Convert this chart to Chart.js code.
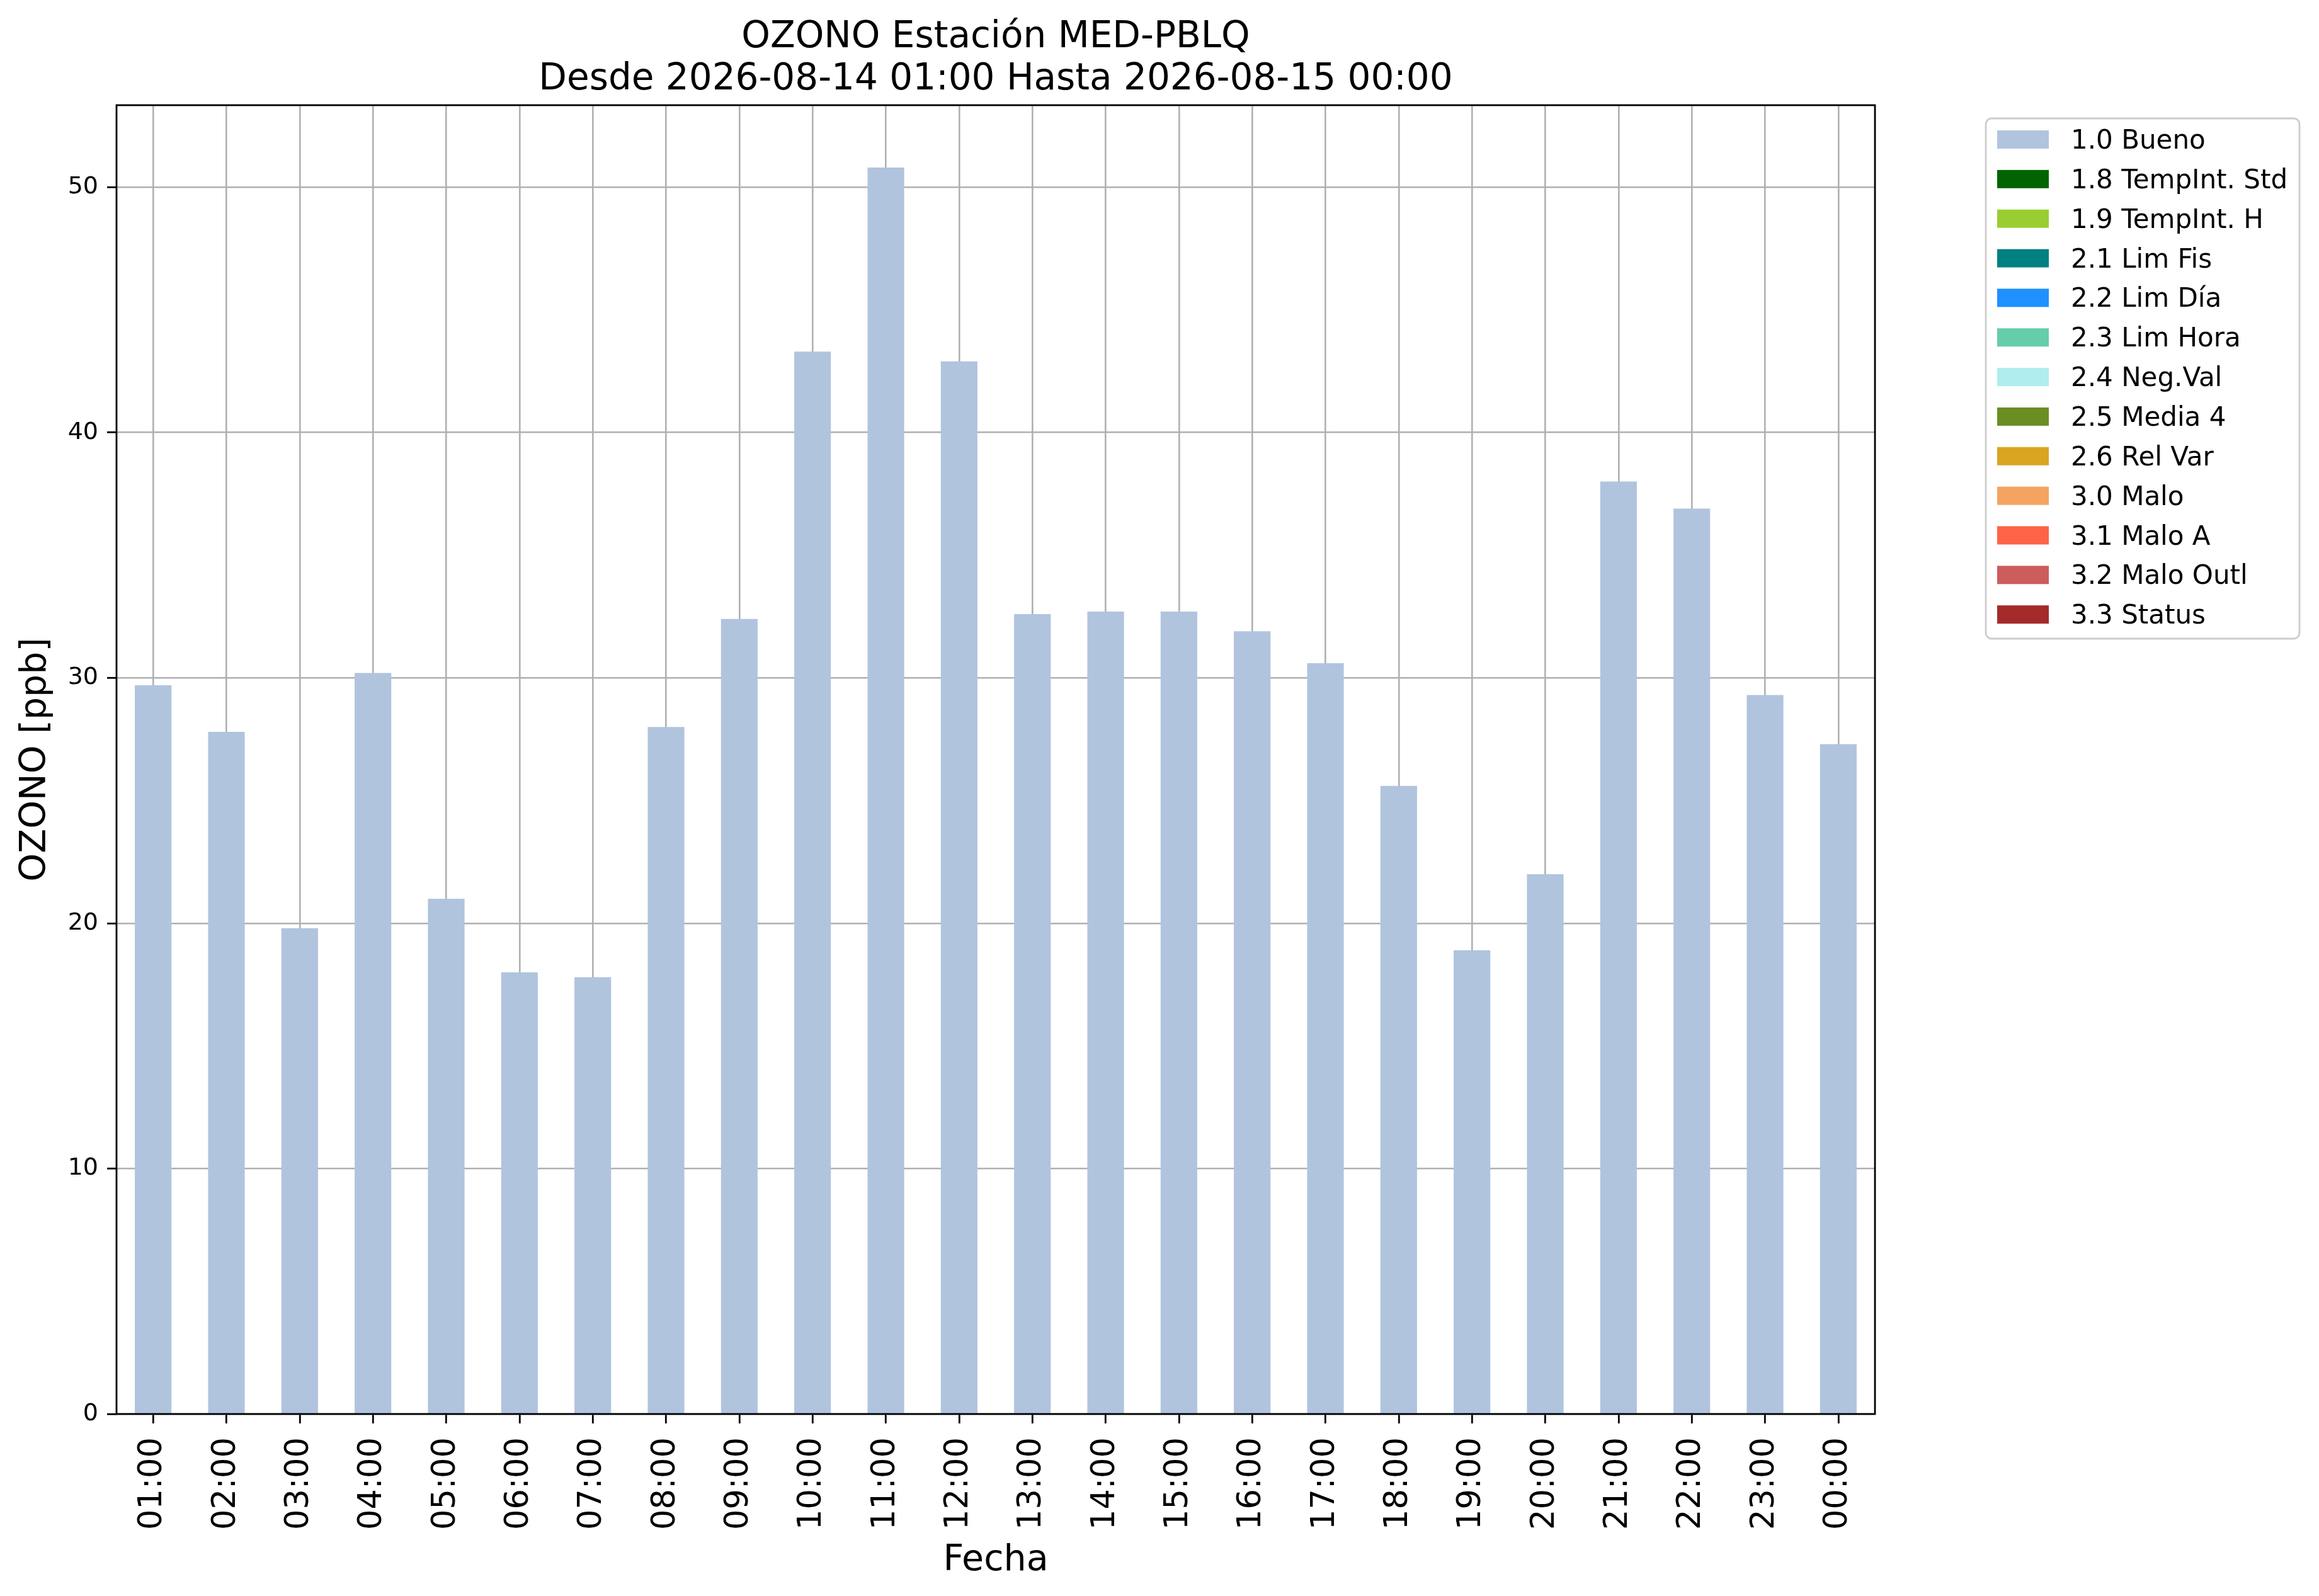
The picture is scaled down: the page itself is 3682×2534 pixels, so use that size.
<!DOCTYPE html>
<html>
<head>
<meta charset="utf-8">
<script src="https://cdn.jsdelivr.net/npm/chart.js@4.4.1/dist/chart.umd.min.js"></script>
<style>
    html, body { margin: 0; padding: 0; background: #fff; }
    canvas { display: block; }
</style>
</head>
<body>
<canvas id="barChart" width="3682" height="2534"></canvas>
<script>
// datos
var horas = ['01:00', '02:00', '03:00', '04:00', '05:00', '06:00', '07:00', '08:00',
    '09:00', '10:00', '11:00', '12:00', '13:00', '14:00', '15:00', '16:00',
    '17:00', '18:00', '19:00', '20:00', '21:00', '22:00', '23:00', '00:00'];
var bueno = [29.7, 27.8, 19.8, 30.2, 21.0, 18.0, 17.8, 28.0, 32.4, 43.3, 50.8, 42.9,
    32.6, 32.7, 32.7, 31.9, 30.6, 25.6, 18.9, 22.0, 38.0, 36.9, 29.3, 27.3];
var flagLabels = ['1.0 Bueno', '1.8 TempInt. Std', '1.9 TempInt. H', '2.1 Lim Fis',
    '2.2 Lim Día', '2.3 Lim Hora', '2.4 Neg.Val', '2.5 Media 4', '2.6 Rel Var',
    '3.0 Malo', '3.1 Malo A', '3.2 Malo Outl', '3.3 Status'];
var flagColors = ['#b0c4de', '#006400', '#9acd32', '#008080', '#1e90ff', '#66cdaa',
    '#afeeee', '#6b8e23', '#daa520', '#f4a460', '#ff6347', '#cd5c5c', '#a52a2a'];
var yTicks = [0, 10, 20, 30, 40, 50];
var titulo = ['OZONO Estación MED-PBLQ', 'Desde 2026-08-14 01:00 Hasta 2026-08-15 00:00'];
var yLabel = 'OZONO [ppb]';
var xLabel = 'Fecha';

var FONT = '"DejaVu Sans", "Liberation Sans", sans-serif';
Chart.defaults.font.family = FONT;
Chart.defaults.color = '#000';

// solo "1.0 Bueno" tiene datos, el resto queda vacio
var datasets = flagLabels.map(function (lab, i) {
    return {
        label: lab,
        data: i === 0 ? bueno : [],
        backgroundColor: flagColors[i],
        borderWidth: 0,
        barPercentage: 0.5,
        categoryPercentage: 1.0
    };
});

var decor = {
    id: 'decor',
    afterDraw: function (chart) {
        var ctx = chart.ctx;
        var a = chart.chartArea;
        ctx.save();

        // marco
        ctx.strokeStyle = '#000';
        ctx.lineWidth = 2.8;
        ctx.strokeRect(a.left, a.top, a.right - a.left, a.bottom - a.top);

        // titulo
        var cx = (a.left + a.right) / 2;
        ctx.fillStyle = '#000';
        ctx.textAlign = 'center';
        ctx.textBaseline = 'alphabetic';
        ctx.font = '58px ' + FONT;
        ctx.fillText(titulo[0], cx, 75);
        ctx.fillText(titulo[1], cx, 142);

        // etiquetas de ejes
        ctx.font = '57px ' + FONT;
        ctx.fillText(xLabel, cx, 2493);
        ctx.save();
        ctx.translate(57, (a.top + a.bottom) / 2);
        ctx.rotate(-Math.PI / 2);
        ctx.textBaseline = 'middle';
        ctx.fillText(yLabel, 0, 0);
        ctx.restore();

        // leyenda
        var bx = 3153, by = 188, bw = 498, bh = 826;
        ctx.beginPath();
        ctx.roundRect(bx, by, bw, bh, 9);
        ctx.fillStyle = 'rgba(255,255,255,0.8)';
        ctx.fill();
        ctx.strokeStyle = '#cccccc';
        ctx.lineWidth = 2.8;
        ctx.stroke();
        ctx.font = '42px ' + FONT;
        ctx.textAlign = 'left';
        ctx.textBaseline = 'alphabetic';
        chart.data.datasets.forEach(function (ds, i) {
            var cy = 221.5 + i * 62.85;
            ctx.fillStyle = ds.backgroundColor;
            ctx.fillRect(3171, cy - 14.5, 82, 29);
            ctx.fillStyle = '#000';
            ctx.fillText(ds.label, 3288, cy + 14.5);
        });
        ctx.restore();
    }
};

var ctx = document.getElementById('barChart').getContext('2d');
var chart = new Chart(ctx, {
    type: 'bar',
    data: { labels: horas, datasets: datasets },
    options: {
        responsive: false,
        animation: false,
        devicePixelRatio: 1,
        layout: { padding: { left: 0, top: 167, right: 705, bottom: 0 } },
        plugins: {
            legend: { display: false },
            title: { display: false },
            tooltip: { enabled: false }
        },
        scales: {
            x: {
                stacked: true,
                z: 1,
                offset: true,
                grid: {
                    offset: false,
                    color: '#b0b0b0',
                    lineWidth: 2.6,
                    drawTicks: true,
                    tickLength: 15,
                    tickColor: '#000',
                    tickWidth: 2.8
                },
                border: { display: false },
                ticks: {
                    autoSkip: false,
                    minRotation: 90,
                    maxRotation: 90,
                    padding: 22,
                    font: { size: 51 },
                    color: '#000'
                },
                afterFit: function (s) { s.height = 289; }
            },
            y: {
                stacked: true,
                z: 1,
                min: 0,
                max: 53.34,
                grid: {
                    color: '#b0b0b0',
                    lineWidth: 2.6,
                    drawTicks: true,
                    tickLength: 15,
                    tickColor: '#000',
                    tickWidth: 2.8
                },
                border: { display: false },
                ticks: {
                    includeBounds: false,
                    padding: 14,
                    font: { size: 38 },
                    color: '#000'
                },
                afterBuildTicks: function (s) {
                    s.ticks = yTicks.map(function (v) { return { value: v }; });
                },
                afterFit: function (s) { s.width = 185; }
            }
        }
    },
    plugins: [decor]
});
</script>
</body>
</html>
